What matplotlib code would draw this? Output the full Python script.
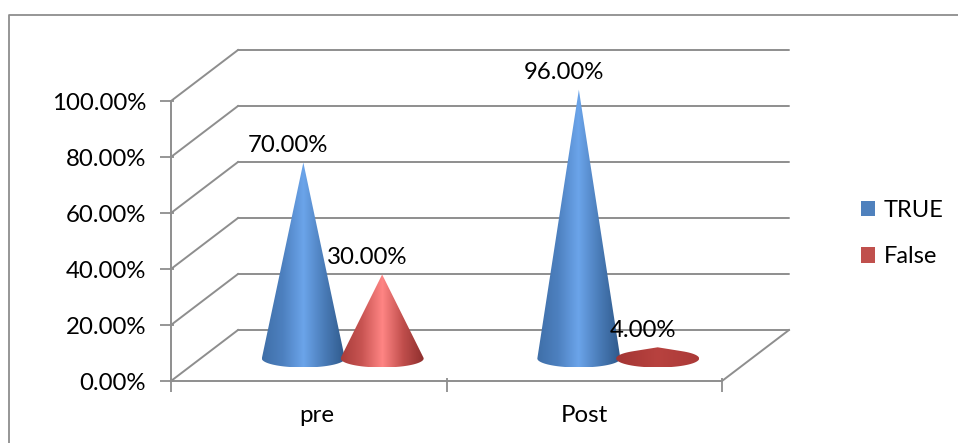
import numpy as np
import matplotlib
matplotlib.use("Agg")
import matplotlib.pyplot as plt
from matplotlib.colors import LinearSegmentedColormap
from matplotlib.patches import Patch
from matplotlib.path import Path
from matplotlib.transforms import Affine2D

# Chart values
categories = ["pre", "Post"]
series_names = ["TRUE", "False"]
true_values = [70.0, 96.0]
false_values = [30.0, 4.0]
y_ticks = [0, 20, 40, 60, 80, 100]

plt.rcParams["font.family"] = ["Lato", "DejaVu Sans"]
W, H = 958, 443
GREY = "#8e8e8e"
FS = 17.25

fig = plt.figure(figsize=(W / 100, H / 100), dpi=100, facecolor="white")
# Axes rectangle is the front plane of the 3D box
left, right, bottom, top = 171, 722, 381, 101
ax = fig.add_axes([left / W, 1 - bottom / H, (right - left) / W, (bottom - top) / H])
ax.set_xlim(0, len(categories))
ax.set_ylim(0, 100)
ax.axis("off")

# Outer chart frame: left and top edges only
fig.add_artist(plt.Line2D([9 / W, 9 / W, 1], [0, 1 - 15 / H, 1 - 15 / H],
                          color=GREY, lw=1.3, transform=fig.transFigure))

# Depth offsets for the receding back wall and the mid plane holding the cones
back = ax.transData + Affine2D().translate(67, 51)
mid = ax.transData + Affine2D().translate(34, 22.5)
n = len(categories)
to_fig = fig.transFigure.inverted()

line = dict(color=GREY, lw=1.4, clip_on=False, solid_capstyle="round", zorder=1)
for v in y_ticks:
    ax.plot([0, n], [v, v], transform=back, **line)
    # side wall: front-left corner to back-left corner
    a, b = to_fig.transform(ax.transData.transform((0, v))), to_fig.transform(back.transform((0, v)))
    fig.add_artist(plt.Line2D([a[0], b[0]], [a[1], b[1]], color=GREY, lw=1.4))
    ax.plot([0], [v], marker="_", ms=10, mew=1.3, color=GREY, clip_on=False,
            transform=ax.transData + Affine2D().translate(-4, 0))
    ax.text(0, v, f"{v:.2f}%", fontsize=FS, ha="right", va="center", color="black",
            transform=ax.transData + Affine2D().translate(-25, -3))

ax.plot([0, 0], [0, 100], **line)
ax.plot([0, n], [0, 0], **line)
# Floor edge on the right
a, b = to_fig.transform(ax.transData.transform((n, 0))), to_fig.transform(back.transform((n, 0)))
fig.add_artist(plt.Line2D([a[0], b[0]], [a[1], b[1]], color=GREY, lw=1.4))
for i in range(n + 1):
    ax.plot([i], [0], marker="|", ms=10, mew=1.3, color=GREY, clip_on=False,
            transform=ax.transData + Affine2D().translate(0, -4))

label_nudges = [8, 0]
for i, (c, nudge) in enumerate(zip(categories, label_nudges)):
    ax.text(i + 0.5, 0, c, fontsize=FS, ha="center", va="center", color="black",
            transform=ax.transData + Affine2D().translate(nudge, -35))

blue_map = LinearSegmentedColormap.from_list(
    "blue", [(0, "#3f6fa8"), (0.25, "#4d80bf"), (0.5, "#6ba4ea"), (0.75, "#4a7cb8"), (1, "#2f5a8c")])
red_map = LinearSegmentedColormap.from_list(
    "red", [(0, "#a83d3b"), (0.25, "#c85452"), (0.5, "#ff8584"), (0.75, "#c04e4c"), (1, "#8e2f2d")])
# A nearly flat cone catches little light and stays a deep, even red
flat_red_map = LinearSegmentedColormap.from_list("flat_red", ["#a33533", "#b8423f", "#ab3a38"])

half_w = 41.5 / ((right - left) / n)   # base half width in category units
ry = 9.0 / ((bottom - top) / 100)      # base half height in percent units
shift = 0.143


def cone_path(cx, value):
    """Outline of a cone seen slightly from above: silhouette plus front rim."""
    th = np.arcsin(min(ry / max(value, ry * 1.01), 1.0))
    angles = np.linspace(th, -np.pi - th, 80)
    xs = cx + half_w * np.cos(angles)
    ys = ry * np.sin(angles)
    return Path(np.column_stack([np.r_[cx, xs, cx], np.r_[value, ys, value]]))


for k, (vals, cmap) in enumerate([(true_values, blue_map), (false_values, red_map)]):
    for i, v in enumerate(vals):
        cx = i + 0.5 + (2 * k - 1) * shift
        grad = np.linspace(0, 1, 256).reshape(1, -1)
        im = ax.imshow(grad, cmap=flat_red_map if v < 10 else cmap, aspect="auto",
                       interpolation="bilinear",
                       extent=(cx - half_w, cx + half_w, -ry, v),
                       transform=mid, zorder=3 + k)
        im.set_clip_box(fig.bbox)
        im.set_clip_path(cone_path(cx, v), mid)
        ax.text(cx, v, f"{v:.2f}%", fontsize=FS, ha="center", va="center",
                color="black", zorder=6, clip_on=False,
                transform=mid + Affine2D().translate(-15, 17))
ax.set_xlim(0, n)
ax.set_ylim(0, 100)

handles = [Patch(facecolor="#4f81bd", label=series_names[0]),
           Patch(facecolor="#c0504d", label=series_names[1])]
fig.legend(handles=handles, loc="center left", bbox_to_anchor=(861 / W, 1 - 233.5 / H),
           frameon=False, fontsize=17, borderpad=0, borderaxespad=0,
           handlelength=0.61, handleheight=0.61, handletextpad=0.34, labelspacing=1.08)

fig.savefig("out.png", dpi=100, facecolor="white")
